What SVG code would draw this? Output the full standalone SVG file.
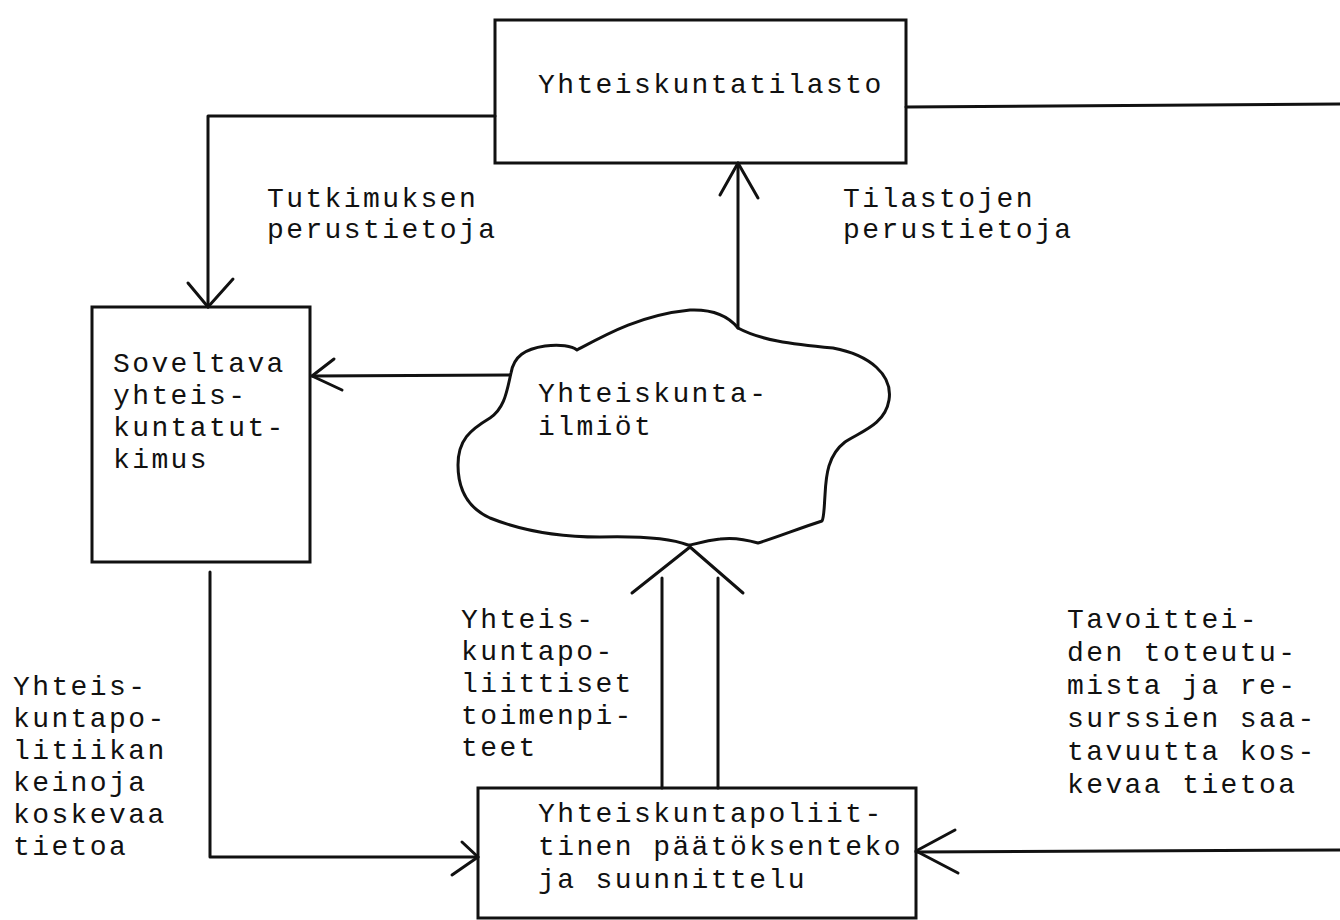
<svg xmlns="http://www.w3.org/2000/svg" width="1340" height="920" viewBox="0 0 1340 920">
<style>
.ln{fill:none;stroke:#111;stroke-width:3;stroke-linecap:round;stroke-linejoin:round}
.box{fill:none;stroke:#111;stroke-width:3}
.t{font-family:"Liberation Mono","DejaVu Sans Mono",monospace;font-size:28px;letter-spacing:2.4px;fill:#111}
</style>
<rect width="1340" height="920" fill="#fff"/>
<g id="connectors">
<polyline class="ln" points="495,116 208,116 208,307"/>
<polyline class="ln" points="188,283 208,307 233,279"/>
<line class="ln" x1="510" y1="375" x2="312" y2="376"/>
<polyline class="ln" points="334,359 312,376 342,390"/>
<line class="ln" x1="738" y1="328" x2="738" y2="163"/>
<polyline class="ln" points="720,195 738,163 758,198"/>
<line class="ln" x1="906" y1="107" x2="1340" y2="104"/>
<polyline class="ln" points="210,572 210,857 478,857"/>
<polyline class="ln" points="462,842 478,857 452,875"/>
<line class="ln" x1="662" y1="788" x2="662" y2="578"/>
<line class="ln" x1="718" y1="788" x2="718" y2="578"/>
<polyline class="ln" points="632,593 690,547 743,593"/>
<line class="ln" x1="1340" y1="850" x2="916" y2="852"/>
<polyline class="ln" points="955,830 916,851 958,873"/>
</g>
<g id="tilasto">
<rect class="box" x="495" y="20" width="411" height="143"/>
<text class="t" x="538" y="93">Yhteiskuntatilasto</text>
</g>
<g id="tutkimus">
<rect class="box" x="92" y="307" width="218" height="255"/>
<text class="t" x="113" y="372">Soveltava</text>
<text class="t" x="113" y="404">yhteis-</text>
<text class="t" x="113" y="436">kuntatut-</text>
<text class="t" x="113" y="468">kimus</text>
</g>
<g id="ilmiot">
<path class="ln" d="M511,373 C514,356 525,349 545,346 C560,344 572,346 577,350 C605,335 640,315 690,310 C715,309 730,318 738,328 C760,340 790,344 833,348 C870,355 893,375 889,400 C885,425 860,432 845,442 C828,455 826,475 825,495 C824,510 824,518 822,521 C800,528 775,538 758,543 C748,540 735,537 720,539 C700,541 692,546 688,545 C670,538 640,536 600,537 C560,537 520,530 490,518 C468,508 458,490 458,465 C458,440 470,430 490,418 C505,408 507,390 511,373 Z"/>
<text class="t" x="538" y="402">Yhteiskunta-</text>
<text class="t" x="538" y="435">ilmiöt</text>
</g>
<g id="paatoksenteko">
<rect class="box" x="478" y="788" width="438" height="130"/>
<text class="t" x="538" y="822">Yhteiskuntapoliit-</text>
<text class="t" x="538" y="855">tinen päätöksenteko</text>
<text class="t" x="538" y="888">ja suunnittelu</text>
</g>
<g id="labels">
<text class="t" x="267" y="207">Tutkimuksen</text>
<text class="t" x="267" y="238">perustietoja</text>
<text class="t" x="843" y="207">Tilastojen</text>
<text class="t" x="843" y="238">perustietoja</text>
<text class="t" x="461" y="628">Yhteis-</text>
<text class="t" x="461" y="660">kuntapo-</text>
<text class="t" x="461" y="692">liittiset</text>
<text class="t" x="461" y="724">toimenpi-</text>
<text class="t" x="461" y="756">teet</text>
<text class="t" x="13" y="695">Yhteis-</text>
<text class="t" x="13" y="727">kuntapo-</text>
<text class="t" x="13" y="759">litiikan</text>
<text class="t" x="13" y="791">keinoja</text>
<text class="t" x="13" y="823">koskevaa</text>
<text class="t" x="13" y="855">tietoa</text>
<text class="t" x="1067" y="628">Tavoittei-</text>
<text class="t" x="1067" y="661">den toteutu-</text>
<text class="t" x="1067" y="694">mista ja re-</text>
<text class="t" x="1067" y="727">surssien saa-</text>
<text class="t" x="1067" y="760">tavuutta kos-</text>
<text class="t" x="1067" y="793">kevaa tietoa</text>
</g>
</svg>
